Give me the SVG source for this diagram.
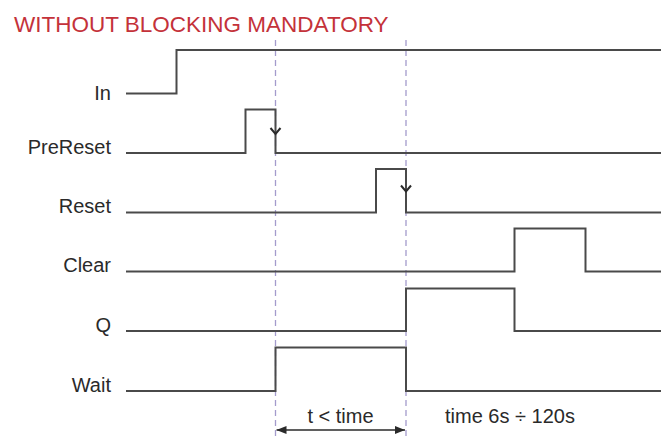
<svg xmlns="http://www.w3.org/2000/svg" width="661" height="438" viewBox="0 0 661 438">
<defs>
<style>
.lbl{font-family:"Liberation Sans",Arial,sans-serif;font-size:20px;fill:#2a2a2a;}
.title{font-family:"Liberation Sans",Arial,sans-serif;font-size:22.5px;fill:#c4323a;}
.sig{fill:none;stroke:#4a4a4a;stroke-width:2;stroke-linejoin:miter;}
.dash{stroke:#a49bcc;stroke-width:1.3;stroke-dasharray:6 4;fill:none;}
.chev{fill:none;stroke:#2a2a2a;stroke-width:2;}
</style>
<marker id="ah" viewBox="0 0 10 8" refX="10" refY="4" markerWidth="10" markerHeight="8" markerUnits="userSpaceOnUse" orient="auto-start-reverse">
<path d="M0,0 L10,4 L0,8 Z" fill="#2a2a2a"/>
</marker>
</defs>
<rect width="661" height="438" fill="#ffffff"/>
<text class="title" x="14" y="32">WITHOUT BLOCKING MANDATORY</text>

<g id="guides">
<line class="dash" x1="275.5" y1="40" x2="275.5" y2="438"/>
<line class="dash" x1="406" y1="40" x2="406" y2="438"/>
</g>

<g id="In">
<text class="lbl" x="111" y="100" text-anchor="end">In</text>
<path class="sig" d="M126,93.5 H176.5 V50 H661"/>
</g>
<g id="PreReset">
<text class="lbl" x="111" y="154" text-anchor="end">PreReset</text>
<path class="sig" d="M126,153 H245.5 V109.5 H275.5 V153 H661"/>
<path class="chev" d="M270.5,128 L275.5,134 L280.5,128"/>
</g>
<g id="Reset">
<text class="lbl" x="111" y="213" text-anchor="end">Reset</text>
<path class="sig" d="M126,212.5 H376 V169 H406 V212.5 H661"/>
<path class="chev" d="M401,185.5 L406,191.5 L411,185.5"/>
</g>
<g id="Clear">
<text class="lbl" x="111" y="272" text-anchor="end">Clear</text>
<path class="sig" d="M126,271.5 H514.5 V228.5 H585.5 V271.5 H661"/>
</g>
<g id="Q">
<text class="lbl" x="111" y="332" text-anchor="end">Q</text>
<path class="sig" d="M126,331 H406 V288.5 H514.5 V331 H661"/>
</g>
<g id="Wait">
<text class="lbl" x="111" y="391.5" text-anchor="end">Wait</text>
<path class="sig" d="M126,391 H275.5 V347.5 H406 V391 H661"/>
</g>

<g id="connectors">
<line x1="276.5" y1="430" x2="405" y2="430" stroke="#2a2a2a" stroke-width="1.5" marker-start="url(#ah)" marker-end="url(#ah)"/>
</g>
<text class="lbl" x="340.5" y="423" text-anchor="middle">t &lt; time</text>
<text class="lbl" x="445" y="423">time 6s ÷ 120s</text>
</svg>
